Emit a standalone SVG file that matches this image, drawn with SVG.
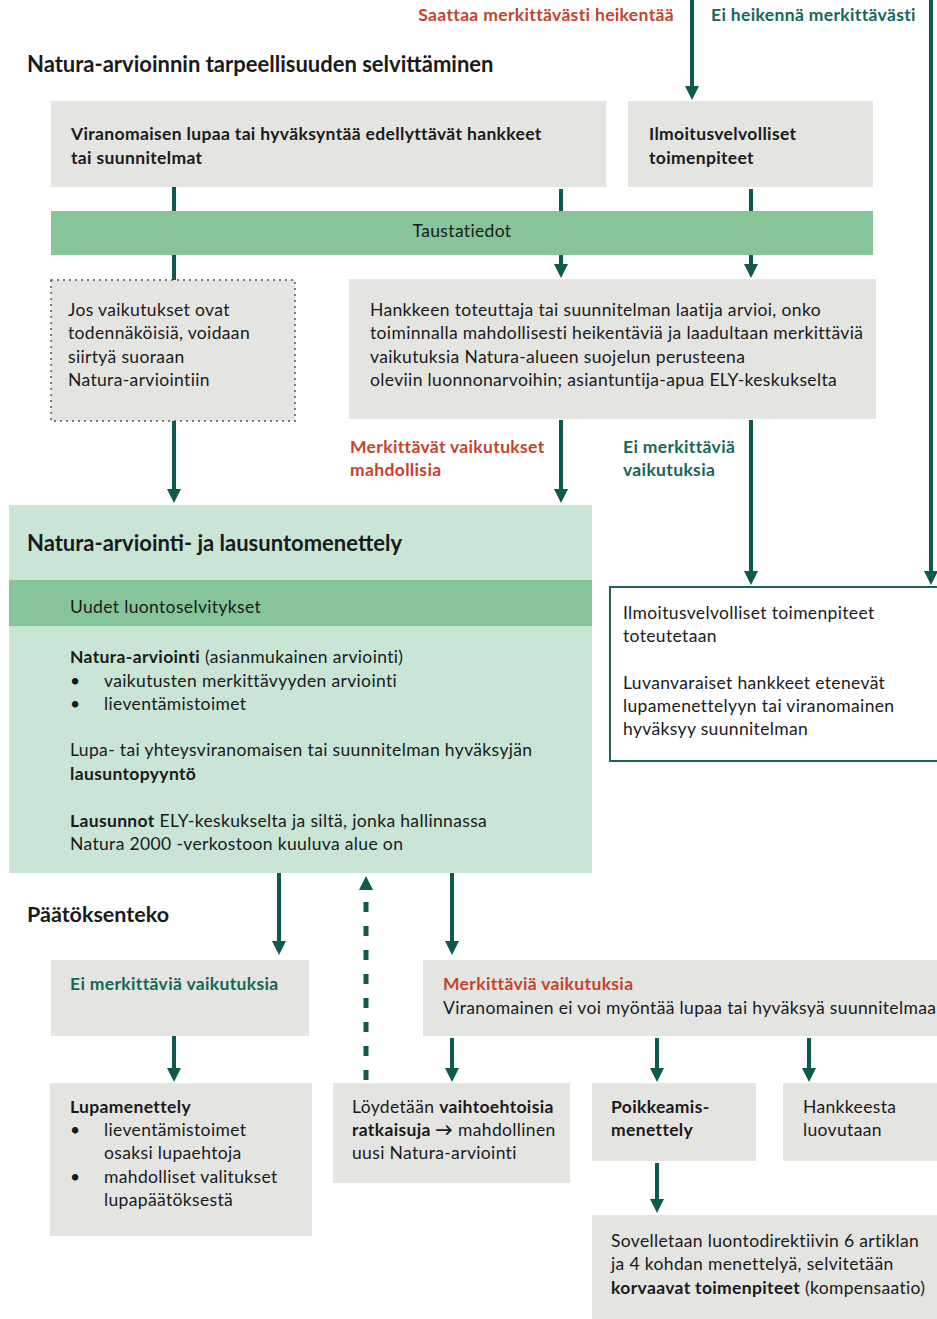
<svg xmlns="http://www.w3.org/2000/svg" width="937" height="1319" viewBox="0 0 937 1319">
<style>
text{font-family:Lato,"Open Sans","Liberation Sans",sans-serif;font-size:17.5px;letter-spacing:0.35px;fill:#1a1a1a;dominant-baseline:central}
.b{font-weight:bold}
.h{font-size:22px;font-weight:bold;letter-spacing:0}
.red{fill:#c4432b;font-weight:bold}
.grn{fill:#15665a;font-weight:bold}
.gray{fill:#e4e4e1}
.lg{fill:#c8e5d5}
.mg{fill:#86c59a}
.ar{stroke:#0f5a4e;stroke-width:4;fill:none}
</style>
<defs>
<marker id="ah" viewBox="0 0 10 10" refX="4.3" refY="5" markerWidth="14" markerHeight="14" markerUnits="userSpaceOnUse" orient="auto">
<path d="M0,0 L10,5 L0,10 z" fill="#0f5a4e"/>
</marker>
</defs>
<rect width="937" height="1319" fill="#fff"/>

<g id="labels-top">
<text x="674" y="14" class="red" text-anchor="end">Saattaa merkittävästi heikentää</text>
<text x="711" y="14" class="grn">Ei heikennä merkittävästi</text>
<text x="27" y="63" class="h">Natura-arvioinnin tarpeellisuuden selvittäminen</text>
</g>

<g id="n-hankkeet">
<rect x="51" y="101" width="555" height="86" class="gray"/>
<text x="71" y="133" class="b">Viranomaisen lupaa tai hyväksyntää edellyttävät hankkeet</text>
<text x="71" y="157" class="b">tai suunnitelmat</text>
</g>
<g id="n-ilmoitus">
<rect x="628" y="101" width="245" height="86" class="gray"/>
<text x="649" y="133" class="b">Ilmoitusvelvolliset</text>
<text x="649" y="157" class="b">toimenpiteet</text>
</g>
<g id="n-taustatiedot">
<rect x="51" y="211" width="822" height="44" class="mg"/>
<text x="462" y="230" text-anchor="middle">Taustatiedot</text>
</g>
<g id="n-jos">
<rect x="51" y="280" width="244" height="141" class="gray" stroke="#555" stroke-width="1.5" stroke-dasharray="2 4"/>
<text x="68" y="309">Jos vaikutukset ovat</text>
<text x="68" y="332">todennäköisiä, voidaan</text>
<text x="68" y="356">siirtyä suoraan</text>
<text x="68" y="379">Natura-arviointiin</text>
</g>
<g id="n-arvioi">
<rect x="349" y="279" width="527" height="140" class="gray"/>
<text x="370" y="309">Hankkeen toteuttaja tai suunnitelman laatija arvioi, onko</text>
<text x="370" y="332">toiminnalla mahdollisesti heikentäviä ja laadultaan merkittäviä</text>
<text x="370" y="356">vaikutuksia Natura-alueen suojelun perusteena</text>
<text x="370" y="379">oleviin luonnonarvoihin; asiantuntija-apua ELY-keskukselta</text>
</g>
<g id="labels-mid">
<text x="350" y="446" class="red">Merkittävät vaikutukset</text>
<text x="350" y="469" class="red">mahdollisia</text>
<text x="623" y="446" class="grn">Ei merkittäviä</text>
<text x="623" y="469" class="grn">vaikutuksia</text>
</g>
<g id="n-natura">
<rect x="9" y="505" width="583" height="368" class="lg"/>
<text x="27" y="542" class="h">Natura-arviointi- ja lausuntomenettely</text>
<rect x="9" y="580" width="583" height="46" class="mg"/>
<text x="70" y="606">Uudet luontoselvitykset</text>
<text x="70" y="656"><tspan class="b">Natura-arviointi</tspan> (asianmukainen arviointi)</text>
<text x="70" y="680">•</text><text x="104" y="680">vaikutusten merkittävyyden arviointi</text>
<text x="70" y="703">•</text><text x="104" y="703">lieventämistoimet</text>
<text x="70" y="749">Lupa- tai yhteysviranomaisen tai suunnitelman hyväksyjän</text>
<text x="70" y="773" class="b">lausuntopyyntö</text>
<text x="70" y="820"><tspan class="b">Lausunnot</tspan> ELY-keskukselta ja siltä, jonka hallinnassa</text>
<text x="70" y="843">Natura 2000 -verkostoon kuuluva alue on</text>
</g>
<g id="n-toteutetaan">
<rect x="610" y="587" width="330" height="174" fill="#fff" stroke="#1d6357" stroke-width="2"/>
<text x="623" y="612">Ilmoitusvelvolliset toimenpiteet</text>
<text x="623" y="635">toteutetaan</text>
<text x="623" y="682">Luvanvaraiset hankkeet etenevät</text>
<text x="623" y="705">lupamenettelyyn tai viranomainen</text>
<text x="623" y="728">hyväksyy suunnitelman</text>
</g>
<g id="label-paatos">
<text x="27" y="914" class="h" style="font-size:21.5px">Päätöksenteko</text>
</g>
<g id="n-ei">
<rect x="51" y="960" width="258" height="76" class="gray"/>
<text x="70" y="983" class="grn">Ei merkittäviä vaikutuksia</text>
</g>
<g id="n-merk">
<rect x="423" y="960" width="520" height="76" class="gray"/>
<text x="443" y="983" class="red">Merkittäviä vaikutuksia</text>
<text x="443" y="1007">Viranomainen ei voi myöntää lupaa tai hyväksyä suunnitelmaa</text>
</g>
<g id="n-lupa">
<rect x="50" y="1083" width="262" height="153" class="gray"/>
<text x="70" y="1106" class="b">Lupamenettely</text>
<text x="70" y="1129">•</text><text x="104" y="1129">lieventämistoimet</text>
<text x="104" y="1152">osaksi lupaehtoja</text>
<text x="70" y="1176">•</text><text x="104" y="1176">mahdolliset valitukset</text>
<text x="104" y="1199">lupapäätöksestä</text>
</g>
<g id="n-vaihto">
<rect x="333" y="1083" width="237" height="100" class="gray"/>
<text x="352" y="1106">Löydetään <tspan class="b">vaihtoehtoisia</tspan></text>
<text x="352" y="1129"><tspan class="b">ratkaisuja →</tspan> mahdollinen</text>
<text x="352" y="1152">uusi Natura-arviointi</text>
</g>
<g id="n-poik">
<rect x="592" y="1083" width="164" height="78" class="gray"/>
<text x="611" y="1106" class="b">Poikkeamis-</text>
<text x="611" y="1129" class="b">menettely</text>
</g>
<g id="n-luov">
<rect x="783" y="1083" width="160" height="78" class="gray"/>
<text x="803" y="1106">Hankkeesta</text>
<text x="803" y="1129">luovutaan</text>
</g>
<g id="n-sovel">
<rect x="592" y="1215" width="350" height="110" class="gray"/>
<text x="611" y="1240">Sovelletaan luontodirektiivin 6 artiklan</text>
<text x="611" y="1263">ja 4 kohdan menettelyä, selvitetään</text>
<text x="611" y="1287"><tspan class="b">korvaavat toimenpiteet</tspan> (kompensaatio)</text>
</g>

<g id="connectors" class="ar">
<line x1="692" y1="0" x2="692" y2="92" marker-end="url(#ah)"/>
<line x1="931" y1="0" x2="931" y2="577" marker-end="url(#ah)"/>
<line x1="174" y1="187" x2="174" y2="211"/>
<line x1="561" y1="189" x2="561" y2="211"/>
<line x1="751" y1="189" x2="751" y2="211"/>
<line x1="174" y1="255" x2="174" y2="280"/>
<line x1="561" y1="255" x2="561" y2="270" marker-end="url(#ah)"/>
<line x1="751" y1="255" x2="751" y2="270" marker-end="url(#ah)"/>
<line x1="174" y1="421" x2="174" y2="495" marker-end="url(#ah)"/>
<line x1="561" y1="420" x2="561" y2="495" marker-end="url(#ah)"/>
<line x1="751" y1="420" x2="751" y2="577" marker-end="url(#ah)"/>
<line x1="279" y1="873" x2="279" y2="947" marker-end="url(#ah)"/>
<line x1="452" y1="873" x2="452" y2="947" marker-end="url(#ah)"/>
<line x1="366" y1="1080" x2="366" y2="884" stroke-width="5" stroke-dasharray="10 14" marker-end="url(#ah)"/>
<line x1="174" y1="1036" x2="174" y2="1074" marker-end="url(#ah)"/>
<line x1="452" y1="1038" x2="452" y2="1074" marker-end="url(#ah)"/>
<line x1="657" y1="1038" x2="657" y2="1074" marker-end="url(#ah)"/>
<line x1="809" y1="1038" x2="809" y2="1074" marker-end="url(#ah)"/>
<line x1="657" y1="1163" x2="657" y2="1205" marker-end="url(#ah)"/>
</g>
</svg>
